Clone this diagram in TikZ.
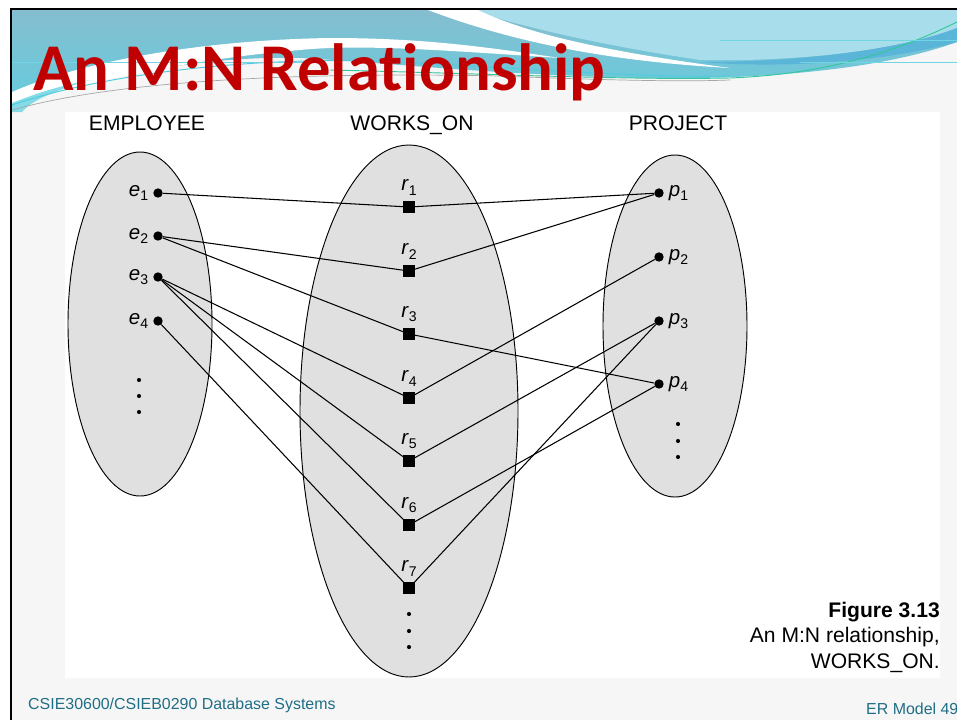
\documentclass[tikz,border=0pt]{standalone}
\usepackage{fontspec}
\setmainfont{Liberation Sans}
\newfontfamily\titlefont[Ligatures=NoCommon]{Carlito}
\usetikzlibrary{positioning}

\definecolor{titlered}{HTML}{C00000}
\definecolor{footteal}{HTML}{1F6E86}
\definecolor{setgrey}{HTML}{E0E0E0}
\definecolor{slidebg}{HTML}{F6F6F6}
\definecolor{banblue}{HTML}{7DC0D5}
\definecolor{banlight}{HTML}{A8DDEB}
\definecolor{bandark}{HTML}{5BB5D8}
\definecolor{bancyan}{HTML}{4FCBDD}
\definecolor{bangreen}{HTML}{34C79C}

\newcommand{\ilab}[2]{\textit{#1}\raisebox{-0.4ex}{\fontsize{12}{12}\selectfont #2}}

\begin{document}
\begin{tikzpicture}[x=0.03cm,y=-0.03cm,
  ent/.style={circle,fill,inner sep=0pt,minimum size=8pt},
  rel/.style={rectangle,fill,inner sep=0pt,minimum size=9.5pt},
  dot/.style={circle,fill,inner sep=0pt,minimum size=3.5pt},
  lab/.style={font=\fontsize{17.5}{17.5}\selectfont,inner sep=1pt},
  head/.style={font=\fontsize{18}{18}\selectfont,anchor=base},
  capt/.style={font=\fontsize{18}{18}\selectfont,anchor=base east,inner sep=0pt},
  foot/.style={font=\fontsize{13.6}{13.6}\selectfont,text=footteal,anchor=base west,inner sep=0pt},
  set/.style={draw,line width=0.8pt,fill=setgrey},
  link/.style={line width=0.9pt}]

\useasboundingbox (0,0) rectangle (957,720);
\clip (0,0) rectangle (957,720);

% slide
\fill[white] (0,0) rectangle (957,720);
\fill[slidebg] (12,10) rectangle (957,720);
\fill[white] (65,112) rectangle (940,678);

% banner
\shade[top color=banblue!95!black!90,bottom color=banblue!80!cyan] (12,10) -- (957,10) -- (957,42)
  .. controls (880,70) and (760,80) .. (640,78) .. controls (480,74) and (380,62) .. (300,58)
  .. controls (200,55) and (80,80) .. (12,107) -- cycle;
\fill[banlight] (470,10) -- (957,10) -- (957,28) .. controls (900,50) and (800,62) .. (700,60)
  .. controls (620,48) and (540,32) .. (470,10) -- cycle;
\fill[bandark] (957,28) .. controls (900,50) and (800,62) .. (700,62) .. controls (800,70) and (900,58) .. (957,42) -- cycle;
\fill[white] (428,10) .. controls (520,45) and (620,62) .. (730,68) .. controls (610,52) and (530,35) .. (478,10) -- cycle;
\fill[white] (12,92) .. controls (80,62) and (200,40) .. (330,38) .. controls (420,38) and (480,46) .. (560,58)
  .. controls (440,50) and (360,44) .. (300,50) .. controls (180,60) and (80,85) .. (12,103) -- cycle;
\fill[bancyan!70!white] (12,103) .. controls (40,92) and (60,86) .. (90,80) .. controls (50,92) and (30,102) .. (22,112) -- (12,112) -- cycle;
\draw[bancyan,line width=0.8pt] (12,105) .. controls (100,75) and (250,55) .. (400,62) .. controls (550,70) and (650,78) .. (730,76);
\draw[bangreen,line width=0.8pt] (330,70) .. controls (500,74) and (620,80) .. (730,78) .. controls (830,74) and (900,50) .. (957,22);
\draw[gray!70,line width=0.6pt] (12,110) .. controls (120,80) and (300,72) .. (500,76) .. controls (600,80) and (680,82) .. (730,80);
\draw[bancyan!80,line width=0.4pt] (12,62) -- (320,62) (720,40) -- (957,40) (800,62) -- (957,62);

% frame
\draw[line width=2.5pt] (11,720) -- (11,9) -- (957,9);

\node[font=\titlefont\bfseries\fontsize{57}{57}\selectfont,text=titlered,anchor=base west,inner sep=0pt] (title) at (33,90) {An M:N Relationship};

% sets
\draw[set] (140,324) ellipse [x radius=72,y radius=172];
\draw[set] (409,411) ellipse [x radius=109,y radius=266];
\draw[set] (675,326) ellipse [x radius=72,y radius=171];

\node[head] (hemp) at (147,130) {EMPLOYEE};
\node[head] (hwo) at (412,130) {WORKS\_ON};
\node[head] (hpro) at (678,130) {PROJECT};

\node[ent,label={[lab,label distance=3pt]left:\ilab{e}{1}}] (e1) at (158,193) {};
\node[ent,label={[lab,label distance=3pt]left:\ilab{e}{2}}] (e2) at (158,236) {};
\node[ent,label={[lab,label distance=3pt]left:\ilab{e}{3}}] (e3) at (158,277) {};
\node[ent,label={[lab,label distance=3pt]left:\ilab{e}{4}}] (e4) at (158,321) {};
\node[dot] (ed1) at (139,380) {};
\node[dot] (ed2) at (139,396) {};
\node[dot] (ed3) at (139,412) {};

\node[rel,label={[lab,label distance=4pt]above:\ilab{r}{1}}] (r1) at (409,207) {};
\node[rel,label={[lab,label distance=4pt]above:\ilab{r}{2}}] (r2) at (409,271) {};
\node[rel,label={[lab,label distance=4pt]above:\ilab{r}{3}}] (r3) at (409,334) {};
\node[rel,label={[lab,label distance=4pt]above:\ilab{r}{4}}] (r4) at (409,398) {};
\node[rel,label={[lab,label distance=4pt]above:\ilab{r}{5}}] (r5) at (409,461) {};
\node[rel,label={[lab,label distance=4pt]above:\ilab{r}{6}}] (r6) at (409,525) {};
\node[rel,label={[lab,label distance=4pt]above:\ilab{r}{7}}] (r7) at (409,588) {};
\node[dot] (rd1) at (409,614) {};
\node[dot] (rd2) at (409,631) {};
\node[dot] (rd3) at (409,647) {};

\node[ent,label={[lab,label distance=3pt]right:\ilab{p}{1}}] (p1) at (659,193) {};
\node[ent,label={[lab,label distance=3pt]right:\ilab{p}{2}}] (p2) at (659,257) {};
\node[ent,label={[lab,label distance=3pt]right:\ilab{p}{3}}] (p3) at (659,321) {};
\node[ent,label={[lab,label distance=3pt]right:\ilab{p}{4}}] (p4) at (659,384) {};
\node[dot] (pd1) at (678,424) {};
\node[dot] (pd2) at (678,441) {};
\node[dot] (pd3) at (678,457) {};

\path[link] (e1) edge (r1) (r1) edge (p1)
            (e2) edge (r2) (r2) edge (p1)
            (e2) edge (r3) (r3) edge (p4)
            (e3) edge (r4) (r4) edge (p2)
            (e3) edge (r5) (r5) edge (p3)
            (e3) edge (r6) (r6) edge (p4)
            (e4) edge (r7) (r7) edge (p3);

\node[capt,font=\bfseries\fontsize{18}{18}\selectfont] (fig) at (940,617) {Figure 3.13};
\node[capt] (cap1) at (940,642) {An M:N relationship,};
\node[capt] (cap2) at (940,668) {WORKS\_ON.};

\node[foot] (course) at (28,709) {CSIE30600/CSIEB0290 Database Systems};
\node[foot] (page) at (866,714) {ER Model 49};

\end{tikzpicture}
\end{document}
